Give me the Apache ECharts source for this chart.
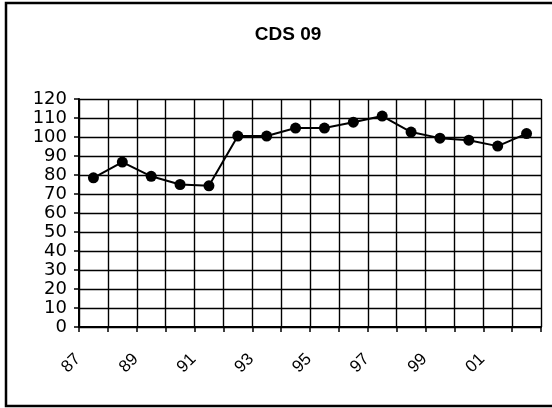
<!DOCTYPE html>
<html>
<head>
<meta charset="utf-8">
<script src="https://cdn.jsdelivr.net/npm/echarts@6/dist/echarts.min.js"></script>
<style>
	html, body {margin: 0; padding: 0; background: #fff}
	#chart {width: 552px; height: 408px}
</style>
</head>
<body>
<div id="chart"></div>
<script>
let years = ["87", "88", "89", "90", "91", "92", "93", "94", "95", "96", "97", "98", "99", "00", "01", "02"]
let values = [78.5, 86.8, 79.3, 75, 74.3, 100.5, 100.5, 104.7, 104.7, 107.8, 111, 102.6, 99.4, 98.3, 95.2, 101.8]
let yTicks = {min: 0, max: 120, step: 10}

let chart = echarts.init(document.getElementById("chart"))
let option = {
	animation: false,
	backgroundColor: "#fff",
	title: {
		text: "CDS 09",
		left: 283,
		top: 20,
		textAlign: "center",
		textStyle: {
			fontFamily: "Liberation Sans",
			fontWeight: "bold",
			fontSize: 19,
			color: "#000"
		}
	},
	graphic: [{
		type: "rect",
		shape: {x: 6, y: 3, width: 560, height: 403},
		style: {fill: null, stroke: "#000", lineWidth: 2.5},
		silent: true
	}],
	grid: {
		left: 79,
		right: 11,
		top: 99,
		bottom: 81
	},
	xAxis: {
		type: "category",
		data: years,
		boundaryGap: true,
		axisLine: {lineStyle: {color: "#000", width: 2}},
		axisTick: {show: true, interval: 0, length: 5, lineStyle: {color: "#000", width: 1.5}},
		splitLine: {show: true, interval: 0, lineStyle: {color: "#000", width: 1.4}},
		axisLabel: {
			interval: 1,
			rotate: 45,
			margin: 14,
			padding: [0, 22, 0, 0],
			fontFamily: "Liberation Sans",
			fontSize: 17,
			color: "#000"
		}
	},
	yAxis: {
		type: "value",
		min: yTicks.min,
		max: yTicks.max,
		interval: yTicks.step,
		axisLine: {show: true, lineStyle: {color: "#000", width: 2}},
		axisTick: {show: true, length: 5, lineStyle: {color: "#000", width: 1.5}},
		splitLine: {show: true, lineStyle: {color: "#000", width: 1.4}},
		axisLabel: {
			margin: 12,
			fontFamily: "DejaVu Sans",
			fontSize: 18,
			color: "#000"
		}
	},
	series: [{
		type: "line",
		data: values,
		symbol: "circle",
		symbolSize: 11,
		lineStyle: {color: "#000", width: 2},
		itemStyle: {color: "#000"}
	}]
}
chart.setOption(option)
window.onresize = chart.resize
</script>
</body>
</html>
